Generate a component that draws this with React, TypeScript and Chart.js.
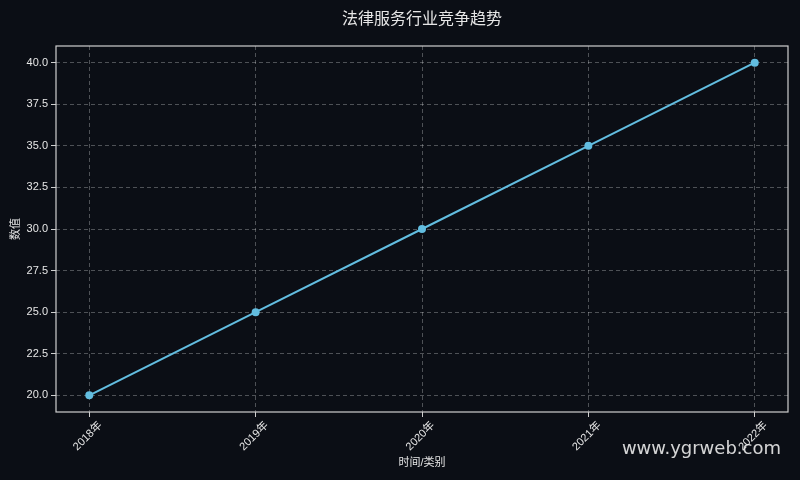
import { useEffect, useRef } from "react";
import { Chart, registerables } from "chart.js";

Chart.register(...registerables);

const categories = ["2018年", "2019年", "2020年", "2021年", "2022年"];
const values = [20, 25, 30, 35, 40];
const yTicks = [20, 22.5, 25, 27.5, 30, 32.5, 35, 37.5, 40];

const BG = "#0b0e15";
const TEXT = "#e6e6e6";
const LINE = "#62bde0";
const FONT = "'Liberation Sans', 'Noto Sans CJK SC', sans-serif";

const frame = {
  id: "frame",
  beforeDraw(chart: Chart) {
    const { ctx, width, height } = chart;
    ctx.save();
    ctx.fillStyle = BG;
    ctx.fillRect(0, 0, width, height);
    ctx.restore();
  },
  afterDraw(chart: Chart) {
    const { ctx, chartArea: a } = chart;
    ctx.save();
    ctx.strokeStyle = "#cfcfcf";
    ctx.lineWidth = 1.2;
    ctx.strokeRect(a.left, a.top, a.right - a.left, a.bottom - a.top);
    ctx.fillStyle = TEXT;
    ctx.textAlign = "center";
    ctx.textBaseline = "middle";
    ctx.font = `16px 'Noto Sans CJK SC', sans-serif`;
    ctx.fillText("法律服务行业竞争趋势", 422, 18);
    ctx.fillStyle = "rgba(235,235,235,0.9)";
    ctx.font = `18px 'DejaVu Sans', sans-serif`;
    ctx.textAlign = "right";
    ctx.fillText("www.ygrweb.com", 781, 449);
    ctx.restore();
  },
};

export default function App() {
  const ref = useRef<HTMLCanvasElement>(null);

  useEffect(() => {
    document.body.style.margin = "0";
    document.body.style.background = BG;
    const canvas = ref.current;
    if (!canvas) return;

    const chart = new Chart(canvas, {
      type: "line",
      data: {
        datasets: [
          {
            data: values.map((v, i) => ({ x: i, y: v })),
            borderColor: LINE,
            backgroundColor: LINE,
            borderWidth: 2,
            pointRadius: 4,
            pointBackgroundColor: LINE,
            pointBorderWidth: 0,
            tension: 0,
          },
        ],
      },
      plugins: [frame],
      options: {
        animation: false,
        responsive: true,
        maintainAspectRatio: false,
        layout: { padding: { top: 46, right: 12, left: 0, bottom: 0 } },
        plugins: { legend: { display: false }, tooltip: { enabled: false } },
        scales: {
          x: {
            type: "linear",
            min: -0.2,
            max: 4.2,
            afterBuildTicks: (axis) => {
              axis.ticks = categories.map((_, i) => ({ value: i }));
            },
            afterFit: (axis) => {
              axis.height = 68;
            },
            grid: {
              color: "rgba(255,255,255,0.28)",
              tickColor: "#cfcfcf",
              tickLength: 5,
            },
            border: { display: false, dash: [4, 3] },
            ticks: {
              color: TEXT,
              font: { family: FONT, size: 11 },
              minRotation: 45,
              maxRotation: 45,
              padding: 2,
              labelOffset: 11,
              autoSkip: false,
              callback: (v) => categories[Number(v)] ?? "",
            },
            title: {
              display: true,
              text: "时间/类别",
              color: TEXT,
              font: { family: FONT, size: 11 },
              padding: { top: 0, bottom: 10 },
            },
          },
          y: {
            type: "linear",
            min: 19,
            max: 41,
            afterBuildTicks: (axis) => {
              axis.ticks = yTicks.map((v) => ({ value: v }));
            },
            afterFit: (axis) => {
              axis.width = 56;
            },
            grid: {
              color: "rgba(255,255,255,0.28)",
              tickColor: "#cfcfcf",
              tickLength: 5,
            },
            border: { display: false, dash: [4, 3] },
            ticks: {
              color: TEXT,
              font: { family: FONT, size: 11 },
              padding: 3,
              callback: (v) => Number(v).toFixed(1),
            },
            title: {
              display: true,
              text: "数值",
              color: TEXT,
              font: { family: FONT, size: 11 },
              padding: { top: 9, bottom: 0 },
            },
          },
        },
      },
    });
    return () => chart.destroy();
  }, []);

  return (
    <div style={{ position: "relative", width: 800, height: 480, background: BG }}>
      <canvas ref={ref} />
    </div>
  );
}
